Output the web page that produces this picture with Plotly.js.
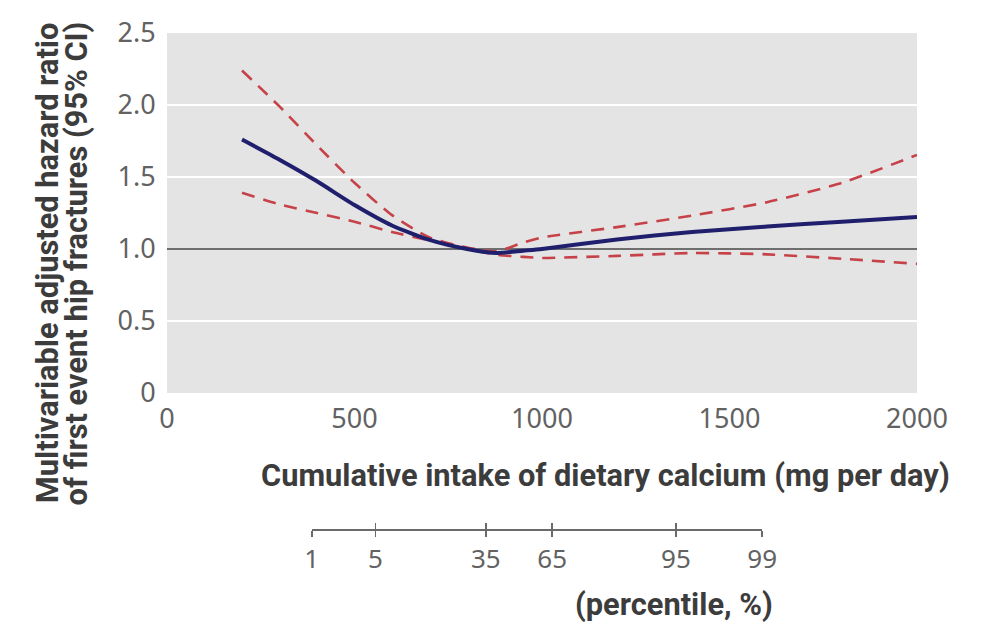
<!DOCTYPE html>
<html>
<head>
<meta charset="utf-8">
<script src="https://cdn.plot.ly/plotly-3.0.1.min.js"></script>
<style>
  html, body { margin: 0; padding: 0; background: #ffffff; }
  #chart { width: 997px; height: 635px; }
</style>
</head>
<body>
<div id="chart"></div>
<script>
// ---- Data ----
const calcium = [200, 300, 400, 500, 600, 700, 800, 880, 950, 1000, 1200, 1400, 1600, 1800, 2000];
const hazardRatio = [1.76, 1.62, 1.47, 1.305, 1.163, 1.063, 1.0, 0.972, 0.988, 1.0, 1.066, 1.118, 1.156, 1.19, 1.223];
const upperCI = [2.24, 1.99, 1.72, 1.46, 1.235, 1.08, 1.01, 0.985, 1.045, 1.08, 1.152, 1.232, 1.325, 1.46, 1.653];
const lowerCI = [1.39, 1.31, 1.25, 1.19, 1.118, 1.06, 1.0, 0.96, 0.945, 0.938, 0.952, 0.972, 0.963, 0.932, 0.897];
const referenceHR = 1.0;
const referenceX = [0, 2000];

const yTickVals = [0, 0.5, 1.0, 1.5, 2.0, 2.5];
const yTickText = ['0', '0.5', '1.0', '1.5', '2.0', '2.5'];
const xTickVals = [0, 500, 1000, 1500, 2000];
const xTickText = ['0', '500', '1000', '1500', '2000'];

// percentile scale: intake (mg/day) at each percentile
const percentileMg = [386, 556, 850, 1027, 1357, 1587];
const percentileLabels = ['1', '5', '35', '65', '95', '99'];

// ---- Styles ----
const tickFont = { family: 'Noto Sans, Open Sans, sans-serif', size: 27, color: '#626262' };
const titleFont = { family: 'Roboto, Liberation Sans, sans-serif', size: 30.8, color: '#3c3c3c', weight: 700 };
const redCI = 'rgb(198,66,72)';
const navy = '#1f1f6d';

const traces = [
  { x: referenceX, y: referenceX.map(() => referenceHR), mode: 'lines',
    line: { color: '#6e6e6e', width: 2 }, hoverinfo: 'skip', showlegend: false },
  { x: calcium, y: upperCI, mode: 'lines',
    line: { color: redCI, width: 2.6, dash: '13px,9px', shape: 'spline', smoothing: 0.6 }, showlegend: false },
  { x: calcium, y: lowerCI, mode: 'lines',
    line: { color: redCI, width: 2.6, dash: '13px,9px', shape: 'spline', smoothing: 0.6 }, showlegend: false },
  { x: calcium, y: hazardRatio, mode: 'lines',
    line: { color: navy, width: 4, shape: 'spline', smoothing: 0.6 }, showlegend: false },
  // carriers for the percentile axes
  { x: percentileMg, y: percentileMg.map(() => 0), xaxis: 'x2', yaxis: 'y2', mode: 'markers',
    marker: { opacity: 0 }, hoverinfo: 'skip', showlegend: false },
  { x: percentileMg, y: percentileMg.map(() => 0), xaxis: 'x3', yaxis: 'y2', mode: 'markers',
    marker: { opacity: 0 }, hoverinfo: 'skip', showlegend: false }
];

const xMax = xTickVals[xTickVals.length - 1];
const pctDomain = [percentileMg[0] / xMax, percentileMg[percentileMg.length - 1] / xMax];
const pctRange = [percentileMg[0], percentileMg[percentileMg.length - 1]];

const layout = {
  width: 997, height: 635,
  margin: { l: 167, r: 80, t: 33, b: 106 },
  paper_bgcolor: '#ffffff',
  plot_bgcolor: 'rgba(0,0,0,0)',
  showlegend: false,
  xaxis: {
    range: [0, xMax], domain: [0, 1], anchor: 'y',
    tickvals: xTickVals, ticktext: xTickText,
    showgrid: false, zeroline: false, showline: false,
    ticks: 'outside', ticklen: 2, tickcolor: 'rgba(0,0,0,0)',
    tickfont: tickFont, fixedrange: true
  },
  yaxis: {
    range: [0, 2.5], domain: [0.2742, 1], anchor: 'x',
    tickvals: yTickVals, ticktext: yTickText,
    showgrid: true, gridcolor: '#ffffff', gridwidth: 2.5,
    zeroline: false, showline: false,
    ticks: 'outside', ticklen: 5, tickcolor: 'rgba(0,0,0,0)',
    tickfont: tickFont, fixedrange: true
  },
  xaxis2: {
    range: pctRange, domain: pctDomain, anchor: 'y2',
    tickvals: percentileMg, ticktext: percentileLabels,
    showgrid: false, zeroline: false,
    showline: true, linecolor: '#6a6a6a', linewidth: 1.6,
    ticks: 'outside', ticklen: 6, tickwidth: 1.6, tickcolor: '#6a6a6a',
    ticklabelstandoff: 0,
    tickfont: { family: tickFont.family, size: 26, color: '#626262' }, fixedrange: true
  },
  xaxis3: {
    range: pctRange, overlaying: 'x2', anchor: 'y2',
    tickvals: percentileMg, showticklabels: false,
    showgrid: false, zeroline: false, showline: false,
    ticks: 'inside', ticklen: 6, tickwidth: 1.6, tickcolor: '#6a6a6a', fixedrange: true
  },
  yaxis2: {
    domain: [0, 0.02], anchor: 'x2', range: [0, 1], visible: false, fixedrange: true
  },
  shapes: [
    { type: 'rect', xref: 'x domain', yref: 'y domain', x0: 0, x1: 1, y0: 0, y1: 1,
      fillcolor: '#e4e4e4', line: { width: 0 }, layer: 'below' }
  ],
  annotations: [
    { text: 'Multivariable adjusted hazard ratio',
      xref: 'paper', yref: 'paper', x: -0.16, y: 0.536, xanchor: 'center', yanchor: 'middle',
      textangle: -90, showarrow: false, font: titleFont },
    { text: 'of first event hip fractures (95% CI)',
      xref: 'paper', yref: 'paper', x: -0.121, y: 0.536, xanchor: 'center', yanchor: 'middle',
      textangle: -90, showarrow: false, font: titleFont },
    { text: 'Cumulative intake of dietary calcium (mg per day)',
      xref: 'paper', yref: 'paper', x: 0.584, y: 0.107, xanchor: 'center', yanchor: 'middle',
      showarrow: false, font: titleFont },
    { text: '(percentile, %)',
      xref: 'paper', yref: 'paper', x: 0.676, y: -0.153, xanchor: 'center', yanchor: 'middle',
      showarrow: false, font: titleFont }
  ]
};

Plotly.newPlot('chart', traces, layout, { displayModeBar: false, staticPlot: true });
</script>
</body>
</html>
